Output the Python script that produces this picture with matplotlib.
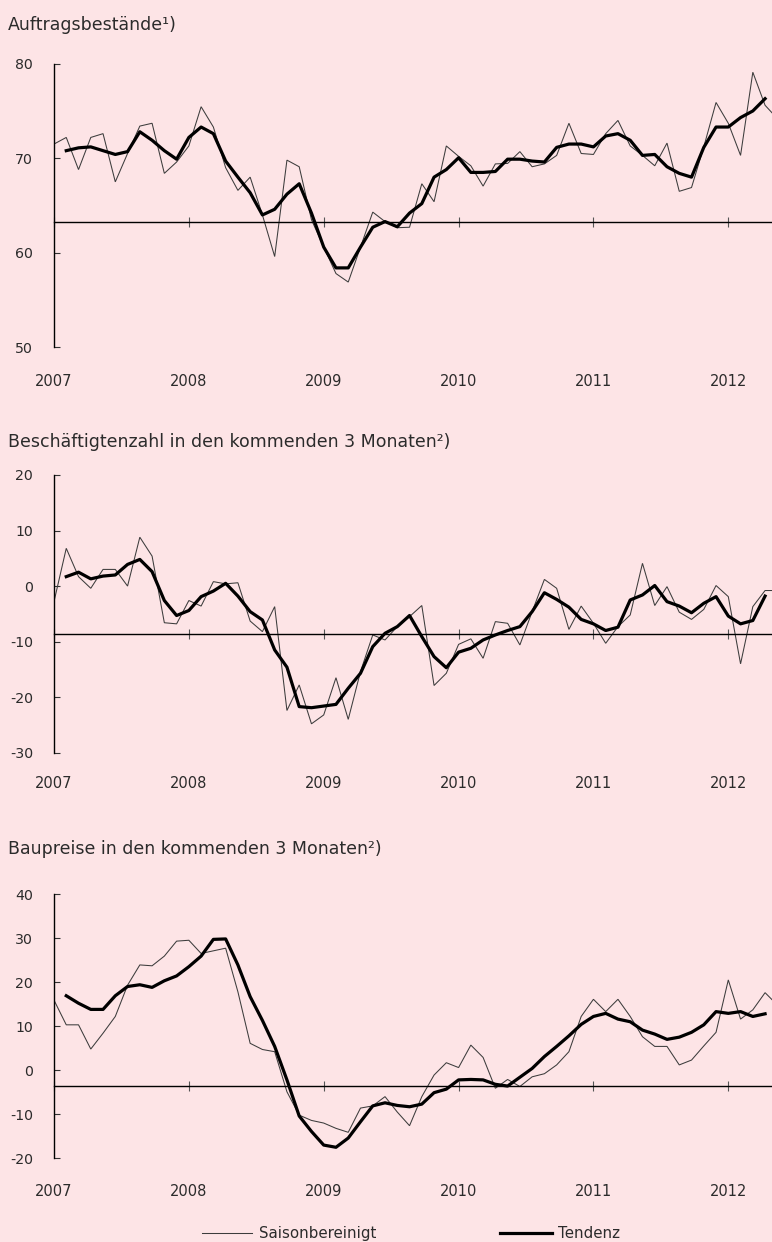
import numpy as np
import matplotlib
matplotlib.use("Agg")
import matplotlib.pyplot as plt
from matplotlib import transforms
from matplotlib.lines import Line2D

# ---------------- data ----------------
years = [2007, 2008, 2009, 2010, 2011, 2012]

auftrag_saison = [71.5, 72.2, 68.8, 72.2, 72.6, 67.5, 70.5, 73.4, 73.7, 68.4,
                  69.6, 71.3, 75.45, 73.3, 69.0, 66.6, 68.0, 64.0, 59.6, 69.8,
                  69.1, 63.5, 60.6, 57.8, 56.9, 60.6, 64.3, 63.3, 62.65, 62.7,
                  67.3, 65.4, 71.3, 70.2, 69.2, 67.05, 69.4, 69.45, 70.7, 69.1,
                  69.4, 70.3, 73.7, 70.5, 70.4, 72.6, 74.0, 71.3, 70.3, 69.2,
                  71.6, 66.5, 66.9, 71.2, 75.9, 73.7, 70.3, 79.1, 75.6, 74.2]
auftrag_tendenz = [70.8, 71.1, 71.2, 70.8, 70.4, 70.7, 72.8, 71.9, 70.8, 69.9,
                   72.2, 73.3, 72.6, 69.7, 68.0, 66.35, 64.0, 64.6, 66.2, 67.3,
                   64.2, 60.6, 58.4, 58.4, 60.6, 62.7, 63.3, 62.75, 64.2, 65.2,
                   68.0, 68.8, 70.05, 68.5, 68.5, 68.6, 69.9, 69.9, 69.7, 69.6,
                   71.15, 71.5, 71.5, 71.2, 72.35, 72.6, 71.9, 70.3, 70.4, 69.1,
                   68.4, 68.0, 71.15, 73.3, 73.3, 74.3, 75.0, 76.3]

besch_saison = [-2.8, 6.8, 1.7, -0.4, 3.0, 3.0, 0.0, 8.8, 5.4, -6.6,
                -6.8, -2.6, -3.6, 0.8, 0.4, 0.6, -6.3, -8.2, -3.7, -22.4,
                -17.8, -24.8, -23.2, -16.5, -24.0, -15.4, -8.8, -9.7, -7.3, -5.5,
                -3.5, -17.9, -15.7, -10.5, -9.5, -13.0, -6.4, -6.7, -10.6, -4.6,
                1.2, -0.4, -7.8, -3.6, -6.7, -10.3, -7.3, -5.2, 4.1, -3.5,
                -0.1, -4.7, -6.0, -4.2, 0.1, -1.9, -14.0, -3.7, -0.8, -0.8]
besch_tendenz = [1.7, 2.5, 1.3, 1.8, 2.0, 3.9, 4.8, 2.6, -2.6, -5.3,
                 -4.4, -1.9, -0.9, 0.5, -1.8, -4.6, -6.1, -11.5, -14.6, -21.7,
                 -21.9, -21.6, -21.3, -18.4, -15.7, -10.9, -8.5, -7.3, -5.3, -9.1,
                 -12.7, -14.7, -11.9, -11.2, -9.7, -8.8, -8.0, -7.3, -4.6, -1.2,
                 -2.4, -3.8, -6.0, -6.8, -8.0, -7.4, -2.5, -1.6, 0.1, -2.8,
                 -3.6, -4.8, -3.1, -1.9, -5.4, -6.8, -6.2, -1.8]

preise_saison = [15.9, 10.3, 10.3, 4.8, 8.4, 12.2, 19.3, 23.9, 23.7, 25.9,
                 29.3, 29.5, 26.5, 27.1, 27.7, 17.8, 6.1, 4.7, 4.2, -4.9,
                 -10.2, -11.4, -12.0, -13.2, -14.1, -8.6, -8.1, -6.0, -9.5, -12.6,
                 -6.0, -1.1, 1.7, 0.6, 5.7, 2.9, -4.1, -2.1, -3.7, -1.5,
                 -0.8, 1.2, 4.2, 12.2, 16.1, 13.3, 16.1, 12.2, 7.6, 5.4,
                 5.4, 1.2, 2.3, 5.5, 8.6, 20.5, 11.6, 13.7, 17.6, 14.8]
preise_tendenz = [16.9, 15.2, 13.8, 13.8, 16.9, 19.0, 19.4, 18.8, 20.3, 21.4,
                  23.5, 25.9, 29.7, 29.8, 23.9, 16.7, 11.3, 5.4, -2.2, -10.4,
                  -13.9, -17.0, -17.5, -15.4, -11.7, -8.1, -7.4, -8.0, -8.3, -7.7,
                  -5.1, -4.3, -2.2, -2.1, -2.2, -3.2, -3.6, -1.6, 0.4, 3.1,
                  5.4, 7.8, 10.4, 12.2, 12.9, 11.6, 11.0, 9.1, 8.2, 7.0,
                  7.5, 8.6, 10.3, 13.3, 12.9, 13.3, 12.2, 12.8]

titles = ["Auftragsbestände¹)",
          "Beschäftigtenzahl in den kommenden 3 Monaten²)",
          "Baupreise in den kommenden 3 Monaten²)"]
yticks_list = [[50, 60, 70, 80], [-30, -20, -10, 0, 10, 20], [-20, -10, 0, 10, 20, 30, 40]]
baselines = [63.3, -8.6, -3.7]
legend_labels = ["Saisonbereinigt", "Tendenz"]

# ---------------- layout ----------------
W, H, DPI = 772, 1242, 100
BG = "#fde4e6"
TXT = "#2b2b2b"
THIN = "#3c3c3c"
FS_TICK = 10.2
FS_YEAR = 10.5
FS_TITLE = 12.5
FS_LEG = 10.8
PTS_PER_YEAR = 11
X_LEFT, X_RIGHT = 54, 772
SPACING = 12.26
XMAX = (X_RIGHT - X_LEFT) / SPACING

plt.rcParams["font.family"] = ["DejaVu Sans"]

fig = plt.figure(figsize=(W / DPI, H / DPI), dpi=DPI, facecolor=BG)

# pixel geometry of each panel: (top px, bottom px, title baseline y, year-label center y)
geom = [(63.7, 347.3, 30, 381), (475, 752.7, 447, 784), (894, 1158.3, 854, 1191)]
series = [(auftrag_saison, auftrag_tendenz),
          (besch_saison, besch_tendenz),
          (preise_saison, preise_tendenz)]

for k in range(3):
    top, bot, ty, yy = geom[k]
    s, t = series[k]
    yt = yticks_list[k]
    ax = fig.add_axes([X_LEFT / W, 1 - bot / H, (X_RIGHT - X_LEFT) / W, (bot - top) / H])
    ax.set_facecolor("none")
    ax.plot(np.arange(len(s)), s, color=THIN, lw=0.75, solid_joinstyle="miter")
    ax.plot(np.arange(1, len(t) + 1), t, color="black", lw=2.3, solid_joinstyle="round")
    ax.set_xlim(0, XMAX)
    ax.set_ylim(min(yt), max(yt))
    for side in ("top", "right"):
        ax.spines[side].set_visible(False)
    ax.spines["left"].set_linewidth(1.0)
    ax.spines["left"].set_color("black")
    ax.spines["bottom"].set_position(("data", baselines[k]))
    ax.spines["bottom"].set_linewidth(1.0)
    ax.spines["bottom"].set_color("black")
    ax.set_xticks([(y - years[0]) * PTS_PER_YEAR for y in years])
    ax.tick_params(axis="x", direction="inout", length=7, width=0.8, color="#555555",
                   labelbottom=False)
    ax.set_yticks(yt)
    ax.set_yticklabels([str(v) for v in yt])
    ax.tick_params(axis="y", direction="in", length=4, width=0.8, color="#333333",
                   pad=15, labelsize=FS_TICK, labelcolor=TXT)
    trans = transforms.blended_transform_factory(ax.transData, fig.transFigure)
    for y in years:
        ax.text((y - years[0]) * PTS_PER_YEAR, 1 - yy / H, str(y), transform=trans,
                ha="center", va="center", fontsize=FS_YEAR, color=TXT, clip_on=False)
    fig.text(8 / W, 1 - ty / H, titles[k], ha="left", va="baseline",
             fontsize=FS_TITLE, color=TXT)

# ---------------- legend ----------------
ly = 1 - 1232.5 / H
fig.add_artist(Line2D([202 / W, 252 / W], [ly, ly], transform=fig.transFigure,
                      color=THIN, lw=0.75))
fig.text(259 / W, 1 - 1238.3 / H, legend_labels[0], ha="left", va="baseline",
         fontsize=FS_LEG, color=TXT)
fig.add_artist(Line2D([500 / W, 552 / W], [ly, ly], transform=fig.transFigure,
                      color="black", lw=2.3))
fig.text(558 / W, 1 - 1238.3 / H, legend_labels[1], ha="left", va="baseline",
         fontsize=FS_LEG, color=TXT)

fig.savefig("out.png", dpi=DPI, facecolor=BG)
